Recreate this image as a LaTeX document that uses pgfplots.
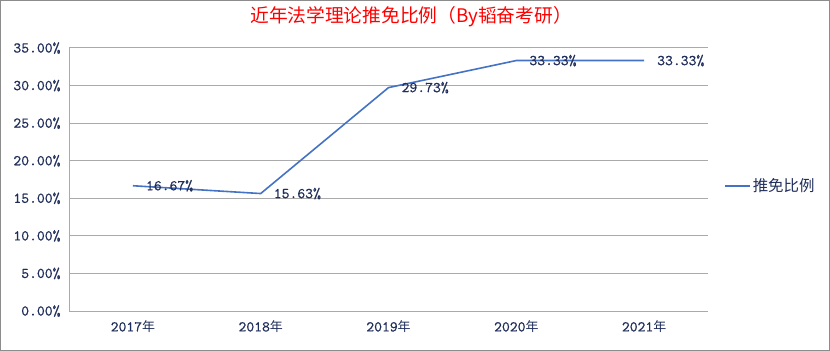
\documentclass[border=0pt]{standalone}
\usepackage{pgfplots}
\pgfplotsset{compat=1.18}
\usepackage{fontspec}
\newfontfamily\cjk{Noto Sans CJK SC}
\newfontfamily\numfont[FakeBold=0.6]{lmmono10-regular.otf}
\definecolor{navy}{RGB}{31,45,90}
\definecolor{exblue}{RGB}{68,114,196}
\definecolor{gridgray}{RGB}{170,170,170}
\begin{document}
\begin{tikzpicture}
\useasboundingbox (0,0) rectangle (830bp,351bp);
\draw[draw={rgb,255:red,140;green,140;blue,140}, line width=1.2bp] (0.6bp,0.6bp) rectangle (829.4bp,350.4bp);
\node[text={rgb,255:red,255;green,0;blue,0}, font=\cjk\fontsize{18.8}{21}\selectfont] at (411bp,334bp) {近年法学理论推免比例（By韬奋考研）};
\begin{axis}[
  at={(69bp,40bp)}, anchor=south west,
  scale only axis, width=639bp, height=263bp,
  xmin=-0.5, xmax=4.5, ymin=0, ymax=35,
  xtick={0,1,2,3,4},
  xticklabels={{2017{\cjk\fontsize{13}{15}\selectfont 年}},{2018{\cjk\fontsize{13}{15}\selectfont 年}},{2019{\cjk\fontsize{13}{15}\selectfont 年}},{2020{\cjk\fontsize{13}{15}\selectfont 年}},{2021{\cjk\fontsize{13}{15}\selectfont 年}}},
  ytick={0,5,...,35},
  yticklabel={\pgfmathprintnumber[fixed,fixed zerofill,precision=2]{\tick}\%},
  /pgf/number format/assume math mode=true,
  major tick length=0pt,
  axis lines*=left,
  axis line style={draw=gridgray, line width=1bp, -},
  ymajorgrids,
  major grid style={draw=gridgray, line width=1bp},
  yticklabel style={font=\numfont\fontsize{15}{17}\selectfont, text=navy, xshift=-5bp},
  xticklabel style={font=\numfont\fontsize{15}{17}\selectfont, text=navy, yshift=-6bp},
  legend style={draw=none, fill=none, at={(1,0.475)}, anchor=west, xshift=13bp,
    font=\cjk\fontsize{15.5}{17}\selectfont, text=navy},
  legend image code/.code={\draw[#1] (0bp,0bp) -- (25bp,0bp);},
  clip=false,
]
\addplot[color=exblue, line width=1.6bp, mark=none,
  nodes near coords={\pgfmathprintnumber[fixed,fixed zerofill,precision=2]{\pgfplotspointmeta}\%},
  point meta=y,
  every node near coord/.append style={anchor=west, xshift=9bp, font=\numfont\fontsize{15}{17}\selectfont, text=navy}]
  coordinates {(0,16.67) (1,15.63) (2,29.73) (3,33.33) (4,33.33)};
\addlegendentry{推免比例}
\end{axis}
\end{tikzpicture}
\end{document}
